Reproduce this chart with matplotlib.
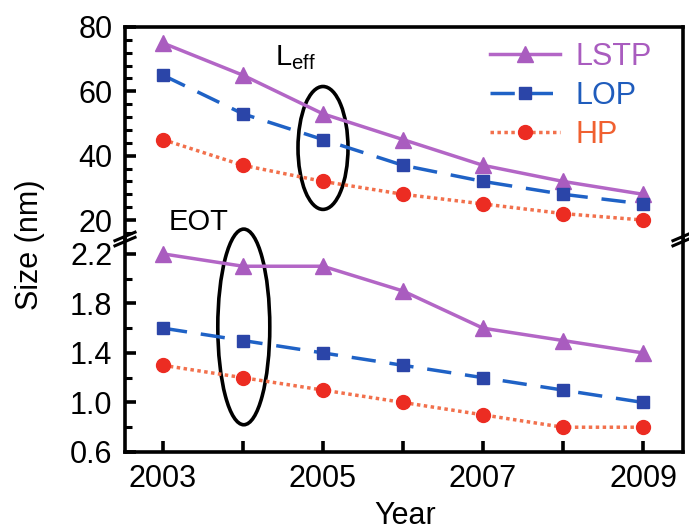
import matplotlib
matplotlib.use('Agg')
import matplotlib.pyplot as plt
from matplotlib.patches import Ellipse
from matplotlib.ticker import MultipleLocator

plt.rcParams['font.family'] = ['Liberation Sans', 'DejaVu Sans']
plt.rcParams['mathtext.fontset'] = 'custom'
plt.rcParams['mathtext.rm'] = 'Liberation Sans'

years = [2003, 2004, 2005, 2006, 2007, 2008, 2009]
year_labels = ['2003', '', '2005', '', '2007', '', '2009']

# effective gate length (nm)
leff_lstp = [75, 65, 53, 45, 37, 32, 28]
leff_lop = [65, 53, 45, 37, 32, 28, 25]
leff_hp = [45, 37, 32, 28, 25, 22, 20]

# equivalent oxide thickness (nm)
eot_lstp = [2.2, 2.1, 2.1, 1.9, 1.6, 1.5, 1.4]
eot_lop = [1.6, 1.5, 1.4, 1.3, 1.2, 1.1, 1.0]
eot_hp = [1.3, 1.2, 1.1, 1.0, 0.9, 0.8, 0.8]

styles = {
    'LSTP': dict(color='#b366c6', linestyle='-', marker='^', markersize=11,
                 markerfacecolor='#a95cbf', markeredgecolor='#a95cbf'),
    'LOP': dict(color='#1f62c6', linestyle=(0, (7, 4)), marker='s', markersize=9,
                markerfacecolor='#2b45a8', markeredgecolor='#2b45a8'),
    'HP': dict(color='#f2704c', linestyle=(0, (1, 1)), marker='o', markersize=10,
               markerfacecolor='#ec2c22', markeredgecolor='#ec2c22'),
}
legend_colors = {'LSTP': '#a95cbf', 'LOP': '#1f5cbc', 'HP': '#f06030'}

fig = plt.figure(figsize=(6.89, 5.31), dpi=100)
ax_top = fig.add_axes([0.1814, 0.5499, 0.8099, 0.3993])
ax_bot = fig.add_axes([0.1814, 0.1488, 0.8099, 0.4011])

for name, vals in zip(['LSTP', 'LOP', 'HP'], [leff_lstp, leff_lop, leff_hp]):
    ax_top.plot(years, vals, lw=2.5, label=name, **styles[name])
for name, vals in zip(['LSTP', 'LOP', 'HP'], [eot_lstp, eot_lop, eot_hp]):
    ax_bot.plot(years, vals, lw=2.5, **styles[name])

xlim = (2002.525, 2009.5)
ax_top.set_xlim(*xlim)
ax_bot.set_xlim(*xlim)
ax_top.set_ylim(14.1, 80)
ax_bot.set_ylim(0.6, 2.32)

ax_top.set_yticks([20, 40, 60, 80])
ax_top.yaxis.set_minor_locator(MultipleLocator(4))
ax_bot.set_yticks([0.6, 1.0, 1.4, 1.8, 2.2])
ax_bot.set_yticklabels(['0.6', '1.0', '1.4', '1.8', '2.2'])
ax_bot.yaxis.set_minor_locator(MultipleLocator(0.2))
ax_bot.set_xticks(years)
ax_bot.set_xticklabels(year_labels)
ax_top.set_xticks([])

for ax in (ax_top, ax_bot):
    for sp in ax.spines.values():
        sp.set_linewidth(2.6)
    ax.tick_params(axis='both', which='major', direction='in', length=8, width=2.6,
                   labelsize=22, pad=9, right=False, top=False)
    ax.tick_params(axis='both', which='minor', direction='in', length=5, width=2.2,
                   right=False, top=False)
    ax.tick_params(axis='x', which='minor', bottom=False)
ax_top.spines['bottom'].set_visible(False)
ax_bot.spines['top'].set_visible(False)

# break marks on both spines
d = 0.018
for xs in (0.0, 1.0):
    for off in (-0.012, 0.012):
        ax_bot.plot([xs - d, xs + d], [1.0 + off - 0.02, 1.0 + off + 0.02],
                    transform=ax_bot.transAxes, color='black', lw=2.2, clip_on=False)

# ellipses highlighting a year
ax_top.add_patch(Ellipse((2005, 42.4), 0.625, 38.2, fill=False, lw=2.6,
                         edgecolor='black', clip_on=False))
ax_bot.add_patch(Ellipse((2004.01, 1.61), 0.65, 1.58, fill=False, lw=2.6,
                         edgecolor='black', clip_on=False))

ax_top.text(2004.40, 68.0, r'L$_{\rm eff}$', fontsize=21, va='baseline', ha='left')
ax_top.text(2003.44, 19.4, 'EOT', fontsize=21, va='center', ha='center', clip_on=False)

leg = ax_top.legend(loc='upper left', bbox_to_anchor=(0.654, 0.93), frameon=False,
                    fontsize=22, handlelength=2.3, handletextpad=0.5, labelspacing=0.3,
                    borderpad=0, borderaxespad=0)
for txt in leg.get_texts():
    txt.set_color(legend_colors[txt.get_text()])

fig.text(0.044, 0.539, 'Size (nm)', rotation=90, fontsize=22, ha='center', va='center')
fig.text(0.588, 0.0, 'Year', fontsize=22, ha='center', va='bottom')

fig.savefig('out.png', dpi=100)
